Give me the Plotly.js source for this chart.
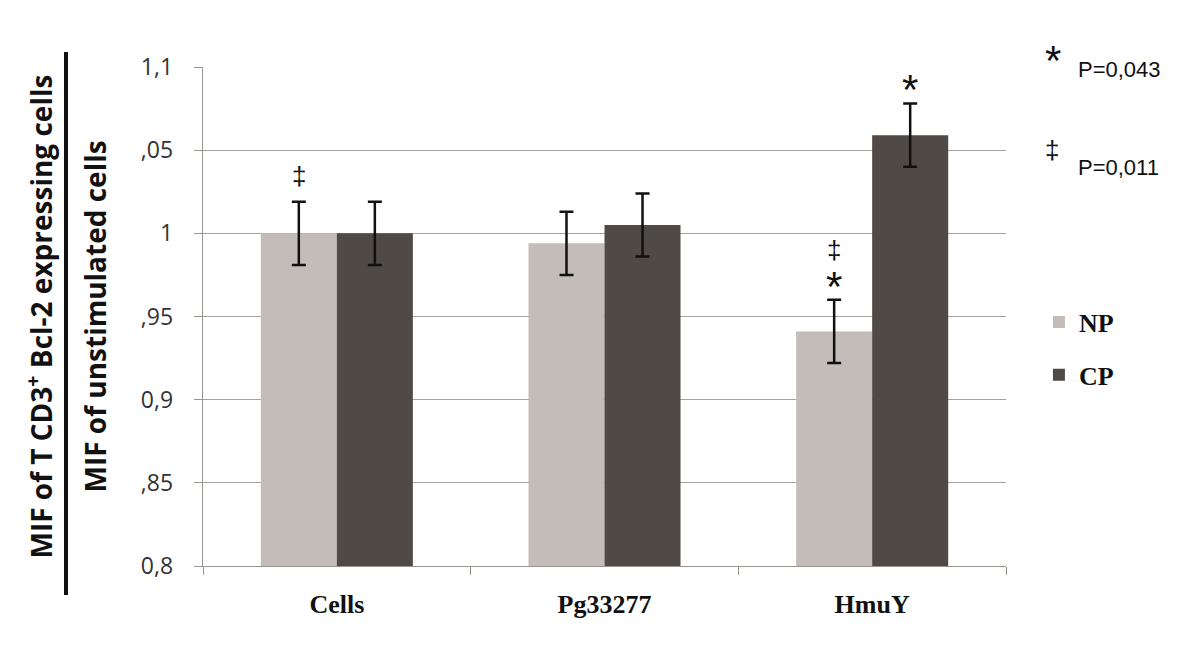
<!DOCTYPE html>
<html><head><meta charset="utf-8">
<script src="https://cdn.plot.ly/plotly-3.0.1.min.js"></script>
<style>body{margin:0;background:#fff}#chart{width:1200px;height:651px}</style>
</head><body><div id="chart"></div>
<script>
const categories = ["Cells", "Pg33277", "HmuY"];
const npValues = [1.000, 0.994, 0.941];
const npErrors = [0.019, 0.019, 0.019];
const cpValues = [1.000, 1.005, 1.059];
const cpErrors = [0.019, 0.019, 0.019];
const yTickVals = [0.8, 0.85, 0.9, 0.95, 1.0, 1.05, 1.1];
const yTickText = ["0,8", ",85", "0,9", ",95", "1", ",05", "1,1"];
const seriesNames = ["NP", "CP"];
const npDagger = [true, false, true];
const npStar = [false, false, true];
const cpStar = [false, false, true];

const bargap = 0.432;
const off = (1 - bargap) / 4;
const SYM = "Liberation Sans, Arial, sans-serif";

const traces = [
  {type:"bar", name:seriesNames[0], x:categories, y:npValues, legendgroup:"a",
   marker:{color:"#c3bcb8"},
   error_y:{type:"data", array:npErrors, visible:true, color:"#111", thickness:2.5, width:7}},
  {type:"bar", name:seriesNames[1], x:categories, y:cpValues, legendgroup:"b",
   marker:{color:"#504a46"},
   error_y:{type:"data", array:cpErrors, visible:true, color:"#111", thickness:2.5, width:7}}
];

const ann = [];
categories.forEach((c,i)=>{
  const npTop = npValues[i] + npErrors[i];
  const cpTop = cpValues[i] + cpErrors[i];
  if (npStar[i]) {
    ann.push({xref:"x", yref:"y", x:i-off, y:npTop, text:"*", showarrow:false, yanchor:"middle", yshift:13,
      font:{family:SYM, size:42, color:"#111"}});
    if (npDagger[i]) ann.push({xref:"x", yref:"y", x:i-off, y:npTop, text:"‡", showarrow:false, yanchor:"middle", yshift:50,
      font:{family:SYM, size:26, color:"#111"}});
  } else if (npDagger[i]) {
    ann.push({xref:"x", yref:"y", x:i-off, y:npTop, text:"‡", showarrow:false, yanchor:"middle", yshift:26,
      font:{family:SYM, size:26, color:"#111"}});
  }
  if (cpStar[i]) ann.push({xref:"x", yref:"y", x:i+off, y:cpTop, text:"*", showarrow:false, yanchor:"middle", yshift:14,
      font:{family:SYM, size:42, color:"#111"}});
});
// p-value key
ann.push({xref:"paper", yref:"paper", x:1.059, y:1.030, text:"*", showarrow:false, xanchor:"center", yanchor:"middle", yshift:-8,
  font:{family:SYM, size:42, color:"#111"}});
ann.push({xref:"paper", yref:"paper", x:1.0875, y:0.994, text:"P=0,043", showarrow:false, xanchor:"left", yanchor:"middle",
  font:{family:SYM, size:22, color:"#111"}});
ann.push({xref:"paper", yref:"paper", x:1.0573, y:0.8337, text:"‡", showarrow:false, xanchor:"center", yanchor:"middle",
  font:{family:SYM, size:26, color:"#111"}});
ann.push({xref:"paper", yref:"paper", x:1.0875, y:0.7976, text:"P=0,011", showarrow:false, xanchor:"left", yanchor:"middle",
  font:{family:SYM, size:22, color:"#111"}});
// y title (two lines separated by a rule)
const TF = {family:"Open Sans, Lato, sans-serif", size:28, color:"#111", weight:700};
ann.push({xref:"paper", yref:"paper", x:(40-203)/803, y:0.5, text:"MIF of T CD3<sup>+</sup> Bcl-2 expressing cells", showarrow:false,
  textangle:-90, xanchor:"center", yanchor:"middle", font:TF});
ann.push({xref:"paper", yref:"paper", x:(94-203)/803, y:0.5, text:"MIF of unstimulated cells", showarrow:false,
  textangle:-90, xanchor:"center", yanchor:"middle", font:TF});

const layout = {
  width:1200, height:651,
  margin:{l:203, r:194, t:67, b:85},
  paper_bgcolor:"#fff", plot_bgcolor:"#fff",
  barmode:"group", bargap:bargap, bargroupgap:0,
  showlegend:true,
  legend:{x:1.041, y:0.536, xanchor:"left", yanchor:"top", traceorder:"grouped", tracegroupgap:16,
    font:{family:"Liberation Serif, Times New Roman, serif", size:26, color:"#111", weight:700},
    itemwidth:30, bgcolor:"rgba(0,0,0,0)"},
  xaxis:{type:"category", showline:true, linecolor:"#9a9490", linewidth:1.3, ticks:"outside", tickson:"boundaries",
    ticklen:8, tickcolor:"#9a9490", showgrid:false, ticklabelstandoff:14,
    tickfont:{family:"Liberation Serif, Times New Roman, serif", size:26, color:"#111", weight:700}},
  yaxis:{range:[0.8,1.1], tickvals:yTickVals, ticktext:yTickText, showline:true, linecolor:"#9a9490", linewidth:1.3,
    ticks:"outside", ticklen:8, tickcolor:"#9a9490", showgrid:true, gridcolor:"#a8a29e", gridwidth:1.3,
    zeroline:false, ticklabelstandoff:16,
    tickfont:{family:"Open Sans, Lato, sans-serif", size:23, color:"#333"}},
  shapes:[{type:"line", xref:"paper", yref:"paper", x0:(66-203)/803, x1:(66-203)/803, y0:(566-52)/499, y1:(566-595)/499,
    line:{color:"#111", width:4}}],
  annotations:ann
};
Plotly.newPlot("chart", traces, layout, {staticPlot:true});
</script></body></html>
